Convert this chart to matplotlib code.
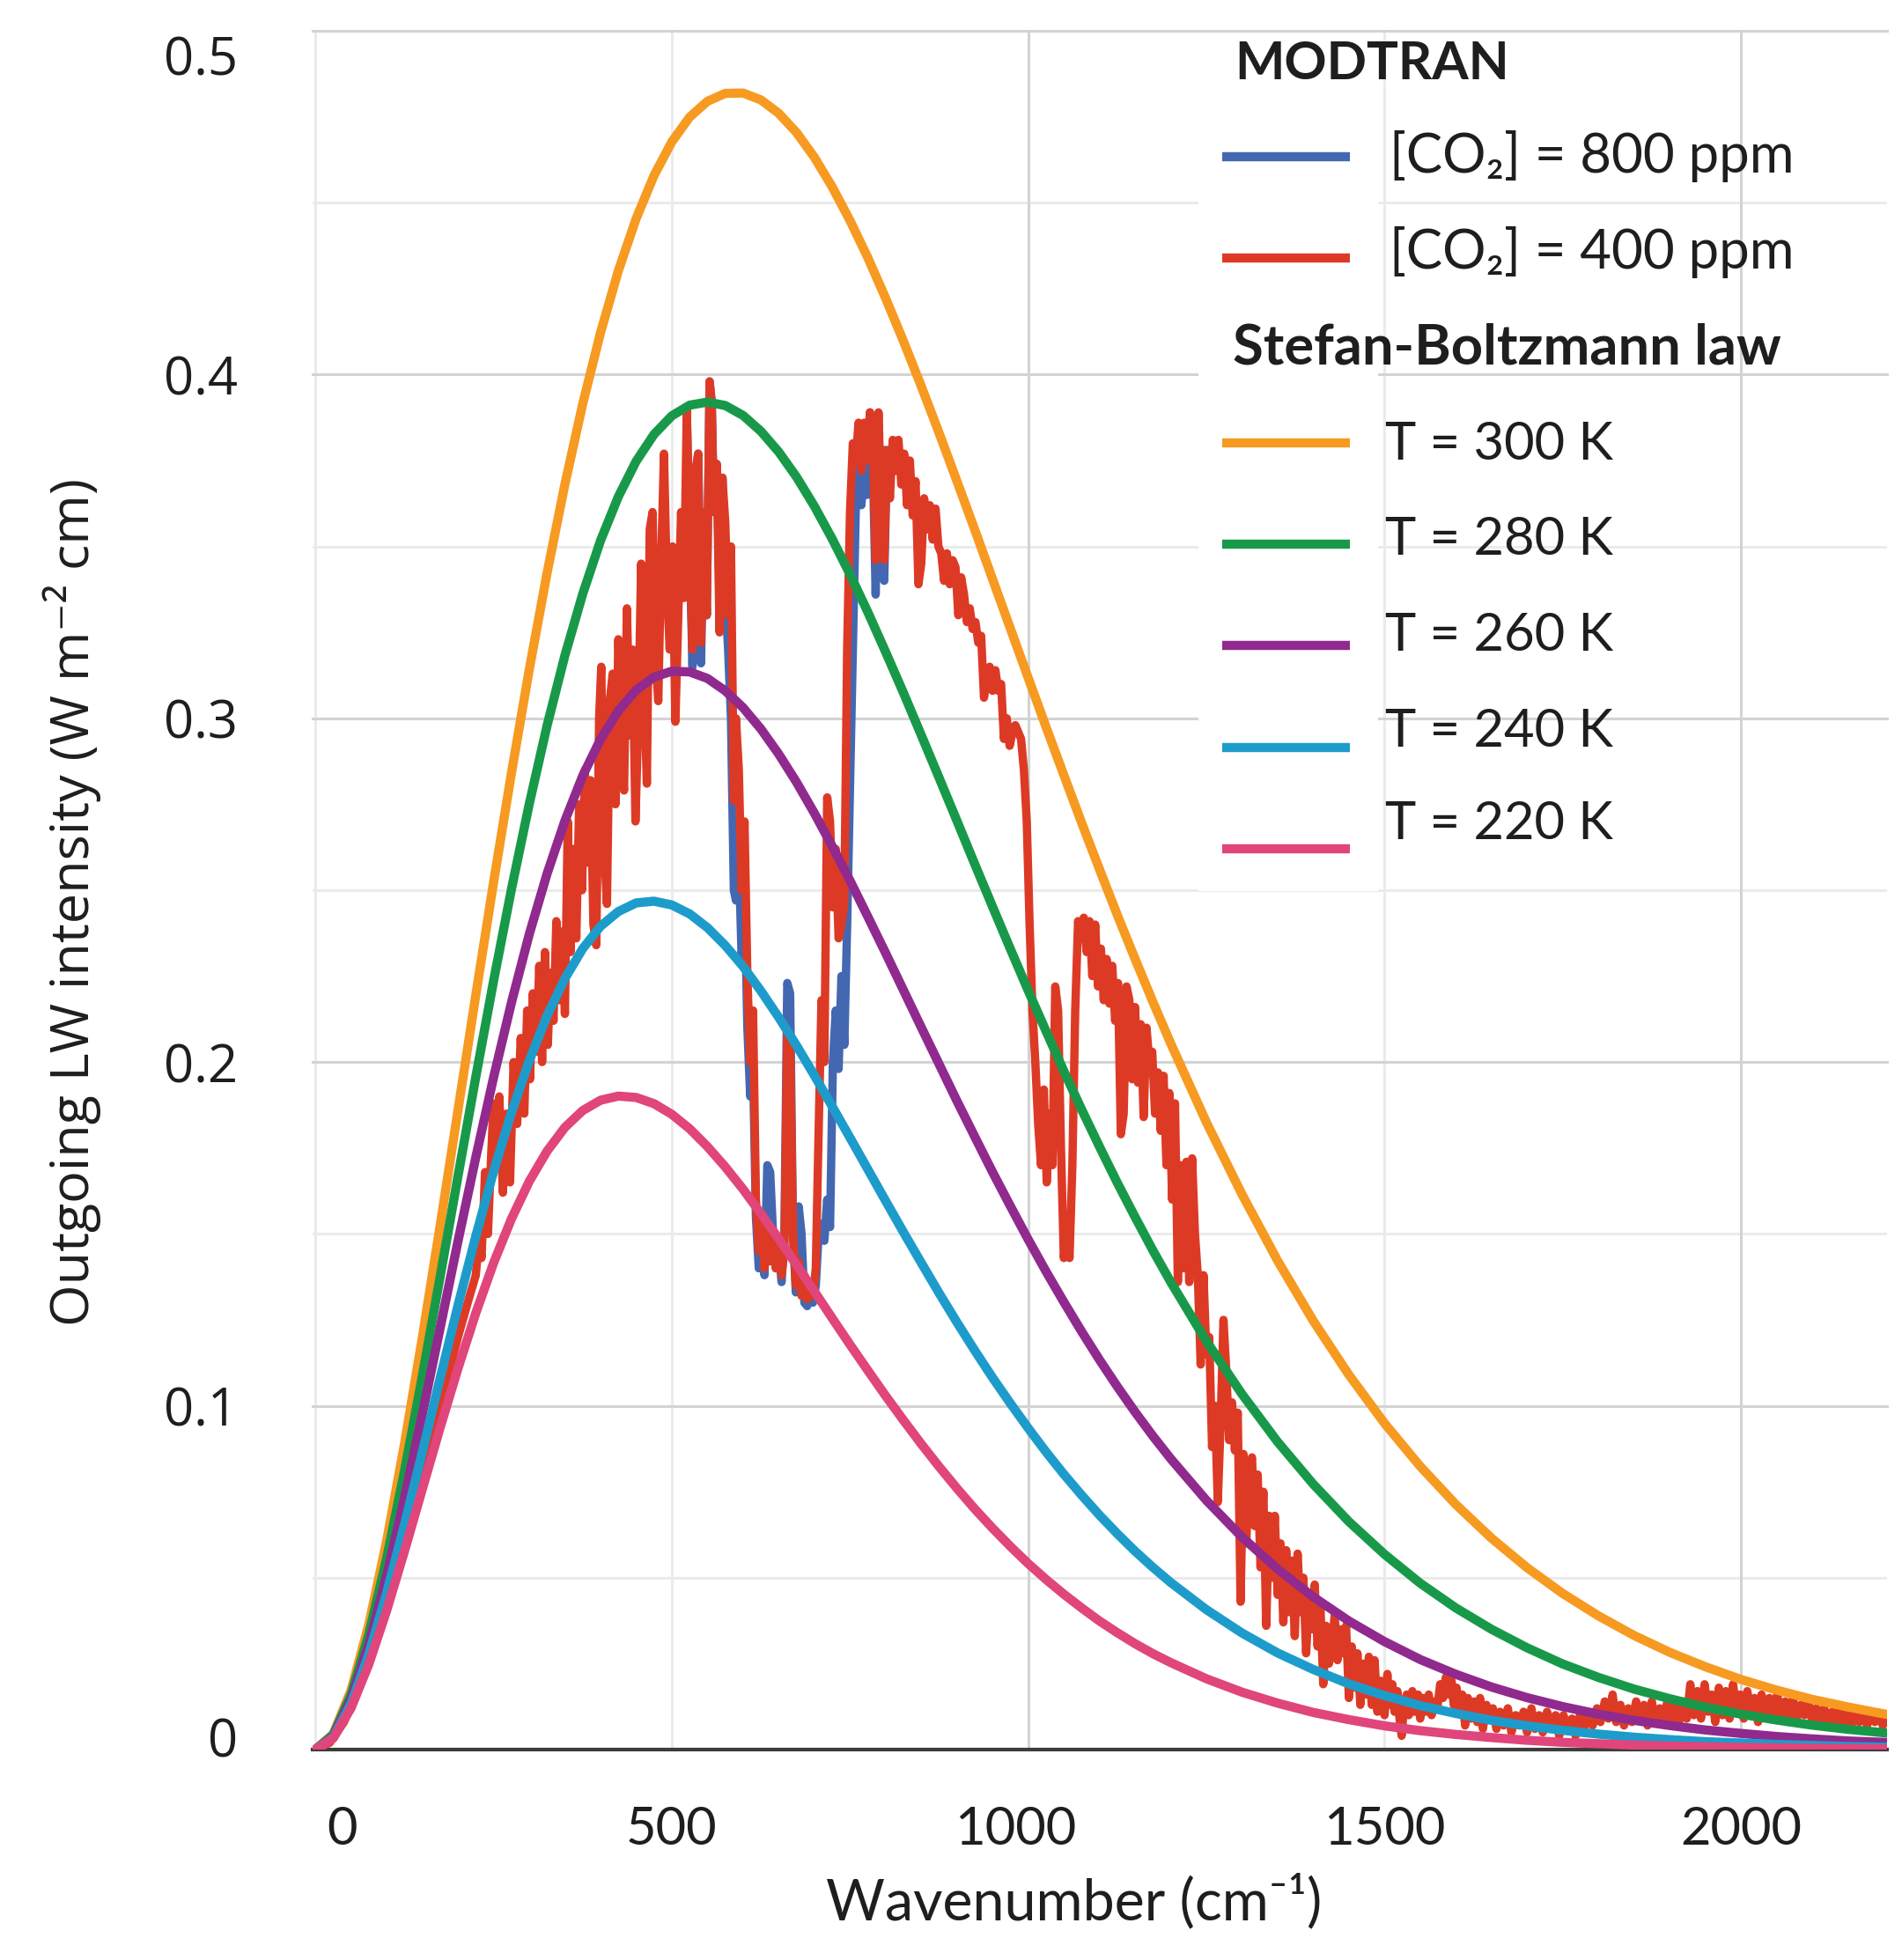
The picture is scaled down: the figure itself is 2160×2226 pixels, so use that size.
import matplotlib
matplotlib.use("Agg")
import matplotlib.pyplot as plt
from matplotlib.lines import Line2D
from matplotlib.patches import Rectangle
from matplotlib.transforms import ScaledTranslation

W, H = 2160, 2226

# ---------------- data ----------------
wn_planck = [0, 25, 50, 75, 100, 125, 150, 175, 200, 225,
             250, 275, 300, 325, 350, 375, 400, 425, 450, 475,
             500, 525, 550, 575, 600, 625, 650, 675, 700, 725,
             750, 775, 800, 825, 850, 875, 900, 925, 950, 975,
             1000, 1025, 1050, 1075, 1100, 1125, 1150, 1175, 1200, 1250,
             1300, 1350, 1400, 1450, 1500, 1550, 1600, 1650, 1700, 1750,
             1800, 1850, 1900, 1950, 2000, 2050, 2100, 2150, 2200, 2250]

T300 = [0.0, 0.0046, 0.0173, 0.0365, 0.0608, 0.0890, 0.1199, 0.1525, 0.1860, 0.2195,
        0.2524, 0.2841, 0.3142, 0.3423, 0.3681, 0.3915, 0.4122, 0.4302, 0.4454, 0.4579,
        0.4677, 0.4749, 0.4795, 0.4818, 0.4819, 0.4799, 0.4760, 0.4704, 0.4632, 0.4546,
        0.4448, 0.4340, 0.4222, 0.4097, 0.3966, 0.3830, 0.3690, 0.3549, 0.3405, 0.3261,
        0.3118, 0.2975, 0.2835, 0.2696, 0.2561, 0.2428, 0.2300, 0.2175, 0.2054, 0.1825,
        0.1615, 0.1422, 0.1247, 0.1090, 0.0949, 0.0824, 0.0713, 0.0615, 0.0529, 0.0454,
        0.0389, 0.0332, 0.0283, 0.0241, 0.0204, 0.0173, 0.0146, 0.0124, 0.0104, 0.0088]
T280 = [0.0, 0.0043, 0.0160, 0.0336, 0.0557, 0.0811, 0.1087, 0.1376, 0.1668, 0.1957,
        0.2237, 0.2503, 0.2751, 0.2979, 0.3183, 0.3362, 0.3517, 0.3645, 0.3748, 0.3826,
        0.3880, 0.3911, 0.3920, 0.3910, 0.3881, 0.3835, 0.3775, 0.3702, 0.3617, 0.3522,
        0.3419, 0.3309, 0.3193, 0.3074, 0.2951, 0.2827, 0.2702, 0.2576, 0.2452, 0.2329,
        0.2208, 0.2090, 0.1974, 0.1862, 0.1754, 0.1649, 0.1549, 0.1452, 0.1360, 0.1188,
        0.1034, 0.0895, 0.0772, 0.0663, 0.0568, 0.0484, 0.0412, 0.0350, 0.0296, 0.0249,
        0.0210, 0.0176, 0.0148, 0.0123, 0.0103, 0.0086, 0.0071, 0.0059, 0.0049, 0.0041]
T260 = [0.0, 0.0039, 0.0147, 0.0307, 0.0506, 0.0733, 0.0976, 0.1227, 0.1479, 0.1723,
        0.1956, 0.2173, 0.2372, 0.2548, 0.2702, 0.2833, 0.2939, 0.3022, 0.3082, 0.3120,
        0.3137, 0.3135, 0.3116, 0.3080, 0.3031, 0.2969, 0.2896, 0.2814, 0.2724, 0.2628,
        0.2528, 0.2423, 0.2317, 0.2209, 0.2101, 0.1994, 0.1887, 0.1783, 0.1680, 0.1581,
        0.1484, 0.1391, 0.1302, 0.1216, 0.1134, 0.1056, 0.0982, 0.0912, 0.0846, 0.0725,
        0.0618, 0.0525, 0.0444, 0.0374, 0.0314, 0.0262, 0.0219, 0.0182, 0.0151, 0.0125,
        0.0103, 0.0085, 0.0070, 0.0057, 0.0047, 0.0038, 0.0031, 0.0025, 0.0021, 0.0017]
T240 = [0.0, 0.0036, 0.0134, 0.0278, 0.0456, 0.0655, 0.0866, 0.1081, 0.1292, 0.1494,
        0.1682, 0.1853, 0.2004, 0.2135, 0.2243, 0.2330, 0.2395, 0.2438, 0.2463, 0.2468,
        0.2457, 0.2431, 0.2391, 0.2339, 0.2278, 0.2207, 0.2130, 0.2048, 0.1961, 0.1871,
        0.1780, 0.1688, 0.1596, 0.1505, 0.1416, 0.1328, 0.1243, 0.1161, 0.1082, 0.1007,
        0.0935, 0.0866, 0.0801, 0.0740, 0.0682, 0.0628, 0.0577, 0.0530, 0.0486, 0.0407,
        0.0339, 0.0281, 0.0233, 0.0191, 0.0157, 0.0128, 0.0105, 0.0085, 0.0069, 0.0056,
        0.0045, 0.0036, 0.0029, 0.0023, 0.0019, 0.0015, 0.0012, 0.0009, 0.0007, 0.0006]
T220 = [0.0, 0.0033, 0.0121, 0.0249, 0.0405, 0.0578, 0.0758, 0.0937, 0.1109, 0.1270,
        0.1416, 0.1544, 0.1653, 0.1741, 0.1810, 0.1859, 0.1889, 0.1901, 0.1897, 0.1879,
        0.1848, 0.1806, 0.1754, 0.1695, 0.1630, 0.1559, 0.1486, 0.1410, 0.1333, 0.1255,
        0.1178, 0.1103, 0.1029, 0.0958, 0.0889, 0.0823, 0.0760, 0.0700, 0.0644, 0.0591,
        0.0541, 0.0495, 0.0452, 0.0412, 0.0374, 0.0340, 0.0308, 0.0279, 0.0253, 0.0206,
        0.0167, 0.0135, 0.0108, 0.0087, 0.0069, 0.0055, 0.0044, 0.0035, 0.0027, 0.0021,
        0.0017, 0.0013, 0.0010, 0.0008, 0.0006, 0.0005, 0.0004, 0.0003, 0.0002, 0.0002]

red_wn = [0, 20, 40, 60, 80, 100, 120, 140, 160, 180,
          200, 215, 225, 230, 233, 238, 242, 247, 250, 254,
          258, 263, 268, 273, 278, 283, 288, 293, 297, 301,
          305, 310, 314, 318, 322, 326, 330, 334, 338, 342,
          346, 350, 354, 358, 362, 366, 370, 374, 378, 382,
          386, 390, 394, 398, 401, 405, 409, 413, 417, 421,
          425, 429, 433, 437, 441, 445, 449, 453, 457, 461,
          465, 469, 473, 477, 481, 485, 489, 493, 497, 501,
          505, 509, 513, 517, 521, 525, 529, 533, 537, 541,
          545, 549, 553, 556, 559, 563, 567, 571, 575, 579,
          583, 587, 590, 594, 598, 602, 606, 610, 614, 618,
          622, 626, 630, 634, 638, 642, 646, 650, 654, 658,
          662, 666, 670, 674, 678, 682, 686, 690, 694, 698,
          702, 706, 710, 714, 718, 722, 726, 730, 734, 738,
          742, 746, 750, 754, 758, 762, 766, 770, 774, 778,
          782, 786, 790, 794, 798, 802, 806, 810, 814, 818,
          822, 826, 830, 834, 838, 842, 846, 850, 854, 858,
          862, 866, 870, 874, 878, 882, 886, 890, 894, 898,
          902, 906, 910, 914, 918, 922, 926, 930, 934, 938,
          942, 946, 950, 954, 958, 962, 966, 970, 974, 978,
          982, 986, 990, 994, 998, 1002, 1006, 1010, 1014, 1018,
          1022, 1026, 1030, 1034, 1038, 1042, 1046, 1050, 1054, 1058,
          1062, 1066, 1070, 1074, 1078, 1082, 1086, 1090, 1094, 1098,
          1102, 1106, 1110, 1114, 1118, 1122, 1126, 1130, 1134, 1138,
          1142, 1146, 1150, 1154, 1158, 1162, 1166, 1170, 1174, 1178,
          1182, 1186, 1190, 1194, 1198, 1202, 1206, 1210, 1214, 1218,
          1222, 1226, 1230, 1234, 1238, 1242, 1246, 1250, 1254, 1258,
          1262, 1266, 1270, 1274, 1278, 1282, 1286, 1290, 1294, 1298,
          1302, 1306, 1310, 1314, 1318, 1322, 1326, 1330, 1334, 1338,
          1342, 1346, 1350, 1354, 1358, 1362, 1366, 1370, 1374, 1378,
          1382, 1386, 1390, 1394, 1398, 1402, 1406, 1410, 1414, 1418,
          1422, 1426, 1430, 1434, 1438, 1442, 1446, 1450, 1454, 1458,
          1462, 1466, 1470, 1474, 1478, 1482, 1486, 1490, 1495, 1500,
          1504, 1507, 1511, 1514, 1518, 1521, 1524, 1527, 1531, 1534,
          1539, 1542, 1547, 1550, 1554, 1558, 1562, 1566, 1570, 1574,
          1578, 1582, 1586, 1590, 1594, 1597, 1601, 1605, 1609, 1613,
          1617, 1621, 1626, 1630, 1634, 1638, 1643, 1647, 1652, 1657,
          1662, 1667, 1673, 1678, 1684, 1689, 1695, 1700, 1706, 1711,
          1717, 1722, 1728, 1734, 1740, 1745, 1751, 1757, 1763, 1768,
          1774, 1780, 1786, 1792, 1798, 1803, 1809, 1814, 1820, 1825,
          1831, 1836, 1842, 1847, 1853, 1858, 1864, 1869, 1875, 1880,
          1886, 1891, 1897, 1902, 1908, 1913, 1919, 1924, 1929, 1934,
          1939, 1944, 1949, 1954, 1959, 1964, 1969, 1974, 1979, 1984,
          1989, 1994, 1999, 2004, 2009, 2014, 2019, 2024, 2029, 2034,
          2040, 2045, 2051, 2056, 2062, 2067, 2073, 2078, 2084, 2089,
          2095, 2100, 2106, 2111, 2117, 2122, 2128, 2133, 2139, 2144,
          2150, 2155, 2161, 2166, 2172, 2177, 2183, 2188, 2194, 2199,
          2205, 2210]
red_val = [0.000, 0.002, 0.008, 0.018, 0.030, 0.043, 0.058, 0.073, 0.089, 0.104,
           0.120, 0.131, 0.138, 0.150, 0.143, 0.168, 0.150, 0.175, 0.188, 0.172,
           0.190, 0.162, 0.185, 0.165, 0.200, 0.182, 0.207, 0.185, 0.215, 0.195,
           0.220, 0.203, 0.228, 0.200, 0.232, 0.205, 0.226, 0.212, 0.241, 0.218,
           0.238, 0.214, 0.270, 0.232, 0.262, 0.236, 0.275, 0.250, 0.285, 0.258,
           0.282, 0.240, 0.234, 0.300, 0.315, 0.262, 0.246, 0.305, 0.313, 0.275,
           0.323, 0.290, 0.279, 0.332, 0.295, 0.320, 0.270, 0.300, 0.345, 0.310,
           0.281, 0.355, 0.360, 0.318, 0.305, 0.345, 0.377, 0.340, 0.320, 0.350,
           0.299, 0.330, 0.360, 0.335, 0.390, 0.350, 0.320, 0.372, 0.377, 0.322,
           0.360, 0.330, 0.398, 0.392, 0.360, 0.374, 0.325, 0.370, 0.357, 0.330,
           0.350, 0.276, 0.300, 0.285, 0.250, 0.270, 0.225, 0.200, 0.215, 0.160,
           0.145, 0.156, 0.140, 0.152, 0.142, 0.150, 0.140, 0.146, 0.138, 0.145,
           0.209, 0.205, 0.150, 0.135, 0.142, 0.132, 0.138, 0.131, 0.136, 0.132,
           0.140, 0.180, 0.218, 0.200, 0.277, 0.270, 0.245, 0.262, 0.236, 0.240,
           0.246, 0.320, 0.360, 0.380, 0.375, 0.386, 0.372, 0.386, 0.375, 0.389,
           0.380, 0.346, 0.389, 0.360, 0.346, 0.378, 0.364, 0.381, 0.372, 0.381,
           0.368, 0.377, 0.362, 0.375, 0.359, 0.369, 0.339, 0.345, 0.364, 0.355,
           0.362, 0.352, 0.361, 0.350, 0.348, 0.340, 0.348, 0.339, 0.346, 0.344,
           0.330, 0.341, 0.336, 0.328, 0.332, 0.326, 0.328, 0.322, 0.324, 0.306,
           0.312, 0.315, 0.308, 0.314, 0.308, 0.310, 0.294, 0.300, 0.292, 0.296,
           0.298, 0.296, 0.294, 0.285, 0.270, 0.240, 0.215, 0.200, 0.182, 0.170,
           0.192, 0.165, 0.185, 0.170, 0.222, 0.215, 0.175, 0.143, 0.150, 0.143,
           0.170, 0.215, 0.241, 0.236, 0.242, 0.232, 0.241, 0.225, 0.240, 0.222,
           0.233, 0.218, 0.230, 0.217, 0.228, 0.212, 0.223, 0.179, 0.185, 0.222,
           0.218, 0.195, 0.216, 0.194, 0.211, 0.184, 0.210, 0.200, 0.203, 0.185,
           0.197, 0.180, 0.196, 0.170, 0.191, 0.160, 0.188, 0.136, 0.170, 0.140,
           0.171, 0.136, 0.172, 0.150, 0.138, 0.112, 0.138, 0.115, 0.120, 0.088,
           0.100, 0.072, 0.095, 0.125, 0.110, 0.090, 0.101, 0.087, 0.098, 0.043,
           0.086, 0.060, 0.082, 0.085, 0.065, 0.080, 0.053, 0.075, 0.036, 0.068,
           0.050, 0.068, 0.045, 0.060, 0.037, 0.058, 0.040, 0.055, 0.033, 0.057,
           0.040, 0.050, 0.028, 0.045, 0.035, 0.048, 0.030, 0.042, 0.019, 0.036,
           0.025, 0.030, 0.039, 0.026, 0.035, 0.028, 0.036, 0.015, 0.030, 0.018,
           0.028, 0.013, 0.025, 0.016, 0.027, 0.013, 0.026, 0.011, 0.020, 0.010,
           0.022, 0.013, 0.019, 0.011, 0.017, 0.009, 0.004, 0.012, 0.016, 0.010,
           0.017, 0.011, 0.016, 0.009, 0.015, 0.011, 0.016, 0.010, 0.014, 0.012,
           0.019, 0.015, 0.021, 0.016, 0.020, 0.013, 0.018, 0.012, 0.016, 0.007,
           0.015, 0.009, 0.014, 0.008, 0.015, 0.006, 0.013, 0.009, 0.012, 0.006,
           0.011, 0.007, 0.012, 0.005, 0.010, 0.007, 0.011, 0.005, 0.012, 0.006,
           0.010, 0.005, 0.011, 0.007, 0.010, 0.004, 0.010, 0.006, 0.009, 0.004,
           0.010, 0.006, 0.011, 0.007, 0.012, 0.008, 0.014, 0.009, 0.016, 0.008,
           0.013, 0.007, 0.012, 0.008, 0.014, 0.009, 0.013, 0.007, 0.014, 0.008,
           0.012, 0.009, 0.014, 0.007, 0.013, 0.008, 0.014, 0.009, 0.019, 0.010,
           0.017, 0.009, 0.019, 0.011, 0.016, 0.008, 0.018, 0.010, 0.017, 0.009,
           0.019, 0.011, 0.016, 0.009, 0.017, 0.010, 0.015, 0.008, 0.016, 0.010,
           0.015, 0.009, 0.016, 0.010, 0.014, 0.008, 0.015, 0.009, 0.013, 0.010,
           0.014, 0.008, 0.012, 0.009, 0.012, 0.007, 0.011, 0.008, 0.012, 0.008,
           0.011, 0.007, 0.011, 0.008, 0.010, 0.007, 0.011, 0.008, 0.010, 0.007,
           0.009, 0.008]

blue_wn = [521, 525, 529, 533, 537, 541, 545, 549, 553, 556,
           559, 563, 567, 571, 575, 579, 583, 587, 590, 594,
           598, 602, 606, 610, 614, 618, 622, 626, 630, 634,
           638, 642, 646, 650, 654, 658, 662, 666, 670, 674,
           678, 682, 686, 690, 694, 698, 702, 706, 710, 714,
           718, 722, 726, 730, 734, 738, 742, 746, 750, 754,
           758, 762, 766, 770, 774, 778, 782, 786, 790, 794,
           798, 802]
blue_val = [0.390, 0.350, 0.315, 0.370, 0.377, 0.316, 0.360, 0.330, 0.398, 0.392,
            0.360, 0.374, 0.336, 0.370, 0.336, 0.320, 0.300, 0.250, 0.247, 0.260,
            0.230, 0.250, 0.210, 0.190, 0.198, 0.155, 0.140, 0.150, 0.138, 0.170,
            0.168, 0.150, 0.140, 0.145, 0.136, 0.150, 0.223, 0.220, 0.150, 0.133,
            0.158, 0.150, 0.130, 0.129, 0.133, 0.130, 0.135, 0.150, 0.153, 0.148,
            0.160, 0.152, 0.200, 0.215, 0.198, 0.225, 0.205, 0.240, 0.280, 0.320,
            0.360, 0.375, 0.362, 0.375, 0.365, 0.389, 0.375, 0.336, 0.375, 0.355,
            0.340, 0.378]

x_ticks = [0, 500, 1000, 1500, 2000]
x_tick_labels = ["0", "500", "1000", "1500", "2000"]
y_ticks = [0, 0.1, 0.2, 0.3, 0.4, 0.5]
y_tick_labels = ["0", "0.1", "0.2", "0.3", "0.4", "0.5"]
modtran_labels = ["[CO\u2082] = 800 ppm", "[CO\u2082] = 400 ppm"]
temp_labels = ["T = 300 K", "T = 280 K", "T = 260 K", "T = 240 K", "T = 220 K"]

# ---------------- style ----------------
C_BLUE, C_RED = "#4368B1", "#DD3A26"
temp_colors = ["#F79A21", "#18994A", "#902A8E", "#1D9CCB", "#E0457B"]
TXT = "#1E1E1E"


def fx(px):
    return px / W


def fy(py):
    return 1 - py / H


fig = plt.figure(figsize=(W / 100, H / 100), dpi=100)
ax = fig.add_axes([fx(355), fy(1987), (2143 - 355) / W, (1987 - 35) / H])
ax.set_xlim(-4, 2205)
ax.set_ylim(0, 0.5)
for s in ["left", "right", "top"]:
    ax.spines[s].set_visible(False)
ax.spines["bottom"].set_color("#3C3C3C")
ax.spines["bottom"].set_linewidth(3)
ax.spines["bottom"].set_zorder(2.5)

GL_MINOR, GL_MAJOR = "#EBEBEB", "#D3D3D3"
for v in [0.05, 0.15, 0.25, 0.35, 0.45]:
    ax.axhline(v, color=GL_MINOR, lw=2.2, zorder=0.1)
for v in [0.1, 0.2, 0.3, 0.4, 0.5]:
    ax.axhline(v, color=GL_MAJOR, lw=2.2, zorder=0.2, clip_on=False)
for v in [0, 500, 1500]:
    ax.axvline(v, color=GL_MINOR, lw=2.2, zorder=0.1)
for v in [1000, 2000]:
    ax.axvline(v, color=GL_MAJOR, lw=2.2, zorder=0.2)

# white backing behind legend handles
ax.add_patch(Rectangle((fx(1361), fy(1012)), (1565 - 1361) / W, (1012 - 50) / H,
                       transform=fig.transFigure, facecolor="white", edgecolor="none", zorder=0.5))

ax.plot(blue_wn, blue_val, color=C_BLUE, lw=6.8, zorder=3)
ax.plot(red_wn, red_val, color=C_RED, lw=6.8, zorder=4)
for i, (vals, c) in enumerate(zip([T300, T280, T260, T240, T220], temp_colors)):
    ax.plot(wn_planck, vals, color=c, lw=7.5, zorder=5 + i)

ax.set_xticks(x_ticks)
ax.set_xticklabels(x_tick_labels, fontsize=43, family="Lato", color=TXT)
ax.tick_params(axis="x", length=0, pad=46)
ax.set_yticks(y_ticks)
ax.set_yticklabels(y_tick_labels, fontsize=43, family="Open Sans", color=TXT)
ax.tick_params(axis="y", length=0, pad=61)
xls = ax.get_xticklabels()
xls[0].set_transform(xls[0].get_transform() + ScaledTranslation(0.30, 0, fig.dpi_scale_trans))
xls[2].set_transform(xls[2].get_transform() + ScaledTranslation(-0.14, 0, fig.dpi_scale_trans))
yls = ax.get_yticklabels()
yls[-1].set_transform(yls[-1].get_transform() + ScaledTranslation(0, -0.275, fig.dpi_scale_trans))
yls[0].set_transform(yls[0].get_transform() + ScaledTranslation(0, 0.14, fig.dpi_scale_trans))

fig.text(fx(1220), fy(2180), "Wavenumber (cm\u207b\u00b9)", ha="center", va="baseline",
         fontsize=46.5, family=["Lato", "DejaVu Sans"], color=TXT)
fig.text(fx(82), fy(1024), "Outgoing LW intensity (W m\u207b\u00b2 cm)", rotation=90,
         ha="center", va="center", fontsize=44, family=["Open Sans", "DejaVu Sans"], color=TXT)

# ---------------- legend ----------------
fig.text(fx(1402), fy(90), "MODTRAN", fontsize=43, weight="bold", family="Lato", color=TXT, va="baseline")
fig.text(fx(1400), fy(413), "Stefan-Boltzmann law", fontsize=45.5, weight="bold", family="Lato",
         color=TXT, va="baseline")
entry_text_y = [196, 305, 522, 630, 739, 848, 953]
entry_line_y = [178, 293, 503, 618, 733, 849, 964]
entry_labels = modtran_labels + temp_labels
entry_colors = [C_BLUE, C_RED] + temp_colors
entry_text_x = [1578, 1578, 1573, 1573, 1573, 1573, 1573]
entry_size = [44.5, 44.5, 43, 43, 43, 43, 43]
for ty, ly, lab, c, tx, fs in zip(entry_text_y, entry_line_y, entry_labels, entry_colors,
                                  entry_text_x, entry_size):
    fig.add_artist(Line2D([fx(1388), fx(1533)], [fy(ly), fy(ly)], transform=fig.transFigure,
                          color=c, lw=7.5, solid_capstyle="butt"))
    fig.text(fx(tx), fy(ty), lab, fontsize=fs, family=["Lato", "DejaVu Sans"], color=TXT, va="baseline")

fig.savefig("out.png", dpi=100)
